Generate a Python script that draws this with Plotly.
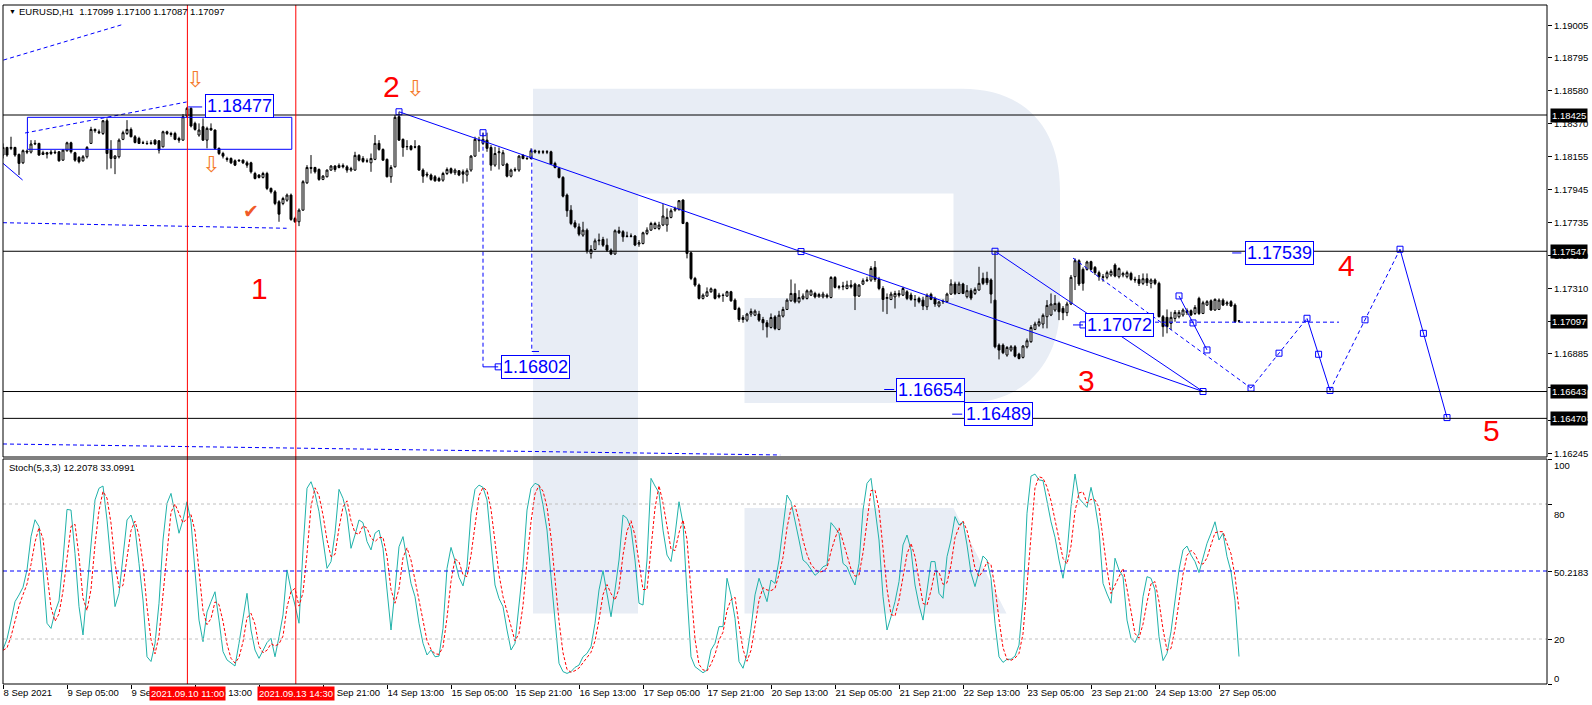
import plotly.graph_objects as go

W, H = 1592, 705


def px(x):
    return x / W


def py(y):
    return 1 - y / H


# ---- EURUSD H1, bar 0 = 8 Sep 13:00 ... bar 309 = 27 Sep 10:00 ----
bars = list(range(310))

opens = [
    1.18167, 1.18216, 1.18210, 1.18216, 1.18171, 1.18117, 1.18193, 1.18186, 1.18238, 1.18242,
    1.18171, 1.18182, 1.18177, 1.18186, 1.18188, 1.18134, 1.18195, 1.18246, 1.18182, 1.18152,
    1.18130, 1.18156, 1.18242, 1.18332, 1.18317, 1.18306, 1.18388, 1.18199, 1.18145, 1.18156,
    1.18268, 1.18306, 1.18332, 1.18285, 1.18274, 1.18246, 1.18242, 1.18246, 1.18263, 1.18259,
    1.18220, 1.18317, 1.18306, 1.18306, 1.18274, 1.18263, 1.18418, 1.18468, 1.18371, 1.18296,
    1.18350, 1.18263, 1.18339, 1.18328, 1.18210, 1.18177, 1.18145, 1.18145, 1.18130, 1.18134,
    1.18134, 1.18117, 1.18117, 1.18048, 1.18038, 1.18023, 1.18048, 1.17952, 1.17930, 1.17866,
    1.17855, 1.17876, 1.17909, 1.17758, 1.17737, 1.17812, 1.17988, 1.18087, 1.18087, 1.18074,
    1.18010, 1.18027, 1.18070, 1.18096, 1.18087, 1.18100, 1.18091, 1.18070, 1.18070, 1.18165,
    1.18145, 1.18130, 1.18117, 1.18139, 1.18242, 1.18203, 1.18139, 1.18027, 1.18091, 1.18414,
    1.18268, 1.18220, 1.18225, 1.18220, 1.18225, 1.18070, 1.18044, 1.18038, 1.18027, 1.18016,
    1.18005, 1.18048, 1.18079, 1.18053, 1.18066, 1.18059, 1.18038, 1.18070, 1.18160, 1.18263,
    1.18242, 1.18263, 1.18216, 1.18102, 1.18182, 1.18102, 1.18109, 1.18031, 1.18074, 1.18070,
    1.18165, 1.18145, 1.18145, 1.18195, 1.18186, 1.18188, 1.18186, 1.18188, 1.18113, 1.18081,
    1.18023, 1.17909, 1.17812, 1.17730, 1.17704, 1.17651, 1.17683, 1.17532, 1.17558, 1.17614,
    1.17623, 1.17586, 1.17554, 1.17529, 1.17679, 1.17673, 1.17645, 1.17643, 1.17645, 1.17593,
    1.17597, 1.17662, 1.17683, 1.17694, 1.17694, 1.17716, 1.17716, 1.17765, 1.17812, 1.17817,
    1.17877, 1.17731, 1.17537, 1.17372, 1.17329, 1.17243, 1.17258, 1.17286, 1.17301, 1.17264,
    1.17264, 1.17258, 1.17286, 1.17232, 1.17178, 1.17107, 1.17103, 1.17142, 1.17135, 1.17142,
    1.17107, 1.17086, 1.17056, 1.17124, 1.17043, 1.17129, 1.17172, 1.17228, 1.17275, 1.17221,
    1.17243, 1.17243, 1.17264, 1.17275, 1.17253, 1.17253, 1.17264, 1.17249, 1.17378, 1.17314,
    1.17318, 1.17307, 1.17329, 1.17335, 1.17258, 1.17335, 1.17357, 1.17361, 1.17443, 1.17365,
    1.17307, 1.17243, 1.17236, 1.17253, 1.17275, 1.17264, 1.17286, 1.17265, 1.17237, 1.17243,
    1.17232, 1.17189, 1.17269, 1.17243, 1.17194, 1.17222, 1.17222, 1.17271, 1.17336, 1.17275,
    1.17336, 1.17254, 1.17293, 1.17275, 1.17297, 1.17372, 1.17372, 1.17362, 1.17232, 1.16942,
    1.16942, 1.16878, 1.16910, 1.16931, 1.16884, 1.16863, 1.16931, 1.16964, 1.17043, 1.17071,
    1.17078, 1.17125, 1.17136, 1.17168, 1.17211, 1.17179, 1.17151, 1.17207, 1.17383, 1.17486,
    1.17430, 1.17430, 1.17480, 1.17443, 1.17409, 1.17383, 1.17379, 1.17394, 1.17458, 1.17383,
    1.17394, 1.17383, 1.17404, 1.17366, 1.17366, 1.17340, 1.17370, 1.17340, 1.17362, 1.17340,
    1.17125, 1.17121, 1.17082, 1.17114, 1.17125, 1.17136, 1.17164, 1.17164, 1.17146, 1.17243,
    1.17146, 1.17200, 1.17228, 1.17168, 1.17172, 1.17232, 1.17207, 1.17222, 1.17200, 1.17099,
]
highs = [
    1.18242, 1.18220, 1.18285, 1.18220, 1.18177, 1.18203, 1.18203, 1.18263, 1.18263, 1.18246,
    1.18195, 1.18188, 1.18199, 1.18199, 1.18193, 1.18203, 1.18253, 1.18253, 1.18188, 1.18160,
    1.18167, 1.18225, 1.18349, 1.18339, 1.18332, 1.18392, 1.18403, 1.18263, 1.18167, 1.18274,
    1.18324, 1.18392, 1.18345, 1.18296, 1.18285, 1.18259, 1.18259, 1.18263, 1.18268, 1.18263,
    1.18324, 1.18324, 1.18317, 1.18317, 1.18285, 1.18431, 1.18477, 1.18474, 1.18382, 1.18371,
    1.18403, 1.18350, 1.18371, 1.18332, 1.18216, 1.18188, 1.18156, 1.18152, 1.18139, 1.18139,
    1.18139, 1.18130, 1.18124, 1.18059, 1.18044, 1.18059, 1.18059, 1.17958, 1.17941, 1.17876,
    1.17898, 1.17919, 1.17919, 1.17769, 1.17823, 1.18005, 1.18102, 1.18167, 1.18091, 1.18081,
    1.18038, 1.18074, 1.18102, 1.18102, 1.18113, 1.18113, 1.18102, 1.18091, 1.18188, 1.18173,
    1.18160, 1.18145, 1.18177, 1.18296, 1.18263, 1.18210, 1.18145, 1.18102, 1.18425, 1.18446,
    1.18274, 1.18263, 1.18231, 1.18263, 1.18231, 1.18081, 1.18059, 1.18048, 1.18038, 1.18027,
    1.18059, 1.18087, 1.18087, 1.18081, 1.18070, 1.18074, 1.18081, 1.18167, 1.18285, 1.18285,
    1.18311, 1.18311, 1.18231, 1.18220, 1.18216, 1.18199, 1.18117, 1.18079, 1.18087, 1.18167,
    1.18173, 1.18156, 1.18210, 1.18203, 1.18199, 1.18199, 1.18199, 1.18195, 1.18124, 1.18091,
    1.18031, 1.17919, 1.17844, 1.17747, 1.17726, 1.17737, 1.17694, 1.17586, 1.17629, 1.17661,
    1.17640, 1.17629, 1.17565, 1.17688, 1.17705, 1.17683, 1.17673, 1.17662, 1.17651, 1.17619,
    1.17673, 1.17701, 1.17737, 1.17737, 1.17737, 1.17851, 1.17823, 1.17823, 1.17834, 1.17877,
    1.17881, 1.17737, 1.17544, 1.17382, 1.17339, 1.17275, 1.17314, 1.17314, 1.17307, 1.17279,
    1.17275, 1.17292, 1.17292, 1.17243, 1.17189, 1.17135, 1.17150, 1.17178, 1.17172, 1.17163,
    1.17124, 1.17103, 1.17146, 1.17135, 1.17163, 1.17189, 1.17243, 1.17365, 1.17339, 1.17296,
    1.17275, 1.17301, 1.17301, 1.17286, 1.17279, 1.17286, 1.17275, 1.17387, 1.17387, 1.17329,
    1.17350, 1.17357, 1.17361, 1.17344, 1.17335, 1.17372, 1.17382, 1.17451, 1.17484, 1.17382,
    1.17322, 1.17275, 1.17286, 1.17292, 1.17296, 1.17318, 1.17296, 1.17280, 1.17265, 1.17254,
    1.17254, 1.17275, 1.17280, 1.17254, 1.17228, 1.17237, 1.17280, 1.17366, 1.17351, 1.17351,
    1.17344, 1.17329, 1.17308, 1.17314, 1.17447, 1.17409, 1.17415, 1.17372, 1.17547, 1.16953,
    1.16953, 1.16936, 1.16942, 1.16942, 1.16893, 1.16942, 1.16985, 1.17071, 1.17093, 1.17114,
    1.17146, 1.17232, 1.17275, 1.17265, 1.17222, 1.17194, 1.17222, 1.17394, 1.17501, 1.17495,
    1.17443, 1.17486, 1.17486, 1.17452, 1.17422, 1.17400, 1.17422, 1.17430, 1.17469, 1.17443,
    1.17415, 1.17422, 1.17415, 1.17383, 1.17394, 1.17404, 1.17404, 1.17372, 1.17372, 1.17351,
    1.17136, 1.17172, 1.17157, 1.17168, 1.17168, 1.17179, 1.17179, 1.17172, 1.17200, 1.17254,
    1.17228, 1.17232, 1.17237, 1.17243, 1.17243, 1.17243, 1.17228, 1.17232, 1.17211, 1.17100,
]
lows = [
    1.18145, 1.18156, 1.18199, 1.18156, 1.18038, 1.18109, 1.18173, 1.18177, 1.18231, 1.18162,
    1.18167, 1.18145, 1.18167, 1.18173, 1.18124, 1.18130, 1.18188, 1.18177, 1.18124, 1.18113,
    1.18124, 1.18145, 1.18238, 1.18311, 1.18302, 1.18296, 1.18074, 1.18081, 1.18044, 1.18145,
    1.18263, 1.18296, 1.18281, 1.18242, 1.18238, 1.18238, 1.18236, 1.18233, 1.18231, 1.18177,
    1.18216, 1.18296, 1.18285, 1.18263, 1.18246, 1.18259, 1.18410, 1.18345, 1.18324, 1.18285,
    1.18259, 1.18210, 1.18324, 1.18203, 1.18167, 1.18145, 1.18124, 1.18109, 1.18096, 1.18124,
    1.18109, 1.18085, 1.18048, 1.18010, 1.18016, 1.18016, 1.17941, 1.17919, 1.17844, 1.17737,
    1.17844, 1.17866, 1.17743, 1.17730, 1.17709, 1.17808, 1.17980, 1.18048, 1.18048, 1.18001,
    1.18005, 1.18023, 1.18066, 1.18059, 1.18081, 1.18081, 1.18053, 1.18059, 1.18066, 1.18126,
    1.18117, 1.18117, 1.18059, 1.18134, 1.18195, 1.18130, 1.18023, 1.17988, 1.18087, 1.18259,
    1.18156, 1.18199, 1.18195, 1.18210, 1.18066, 1.17988, 1.18023, 1.18001, 1.17995, 1.17995,
    1.17995, 1.18038, 1.18044, 1.18038, 1.18031, 1.17984, 1.17995, 1.18059, 1.18156, 1.18188,
    1.18231, 1.18188, 1.18066, 1.18091, 1.18074, 1.18096, 1.18023, 1.18023, 1.18059, 1.18059,
    1.18139, 1.18139, 1.18139, 1.18177, 1.18173, 1.18173, 1.18173, 1.18102, 1.18081, 1.18016,
    1.17894, 1.17769, 1.17715, 1.17694, 1.17644, 1.17640, 1.17532, 1.17500, 1.17554, 1.17586,
    1.17575, 1.17543, 1.17522, 1.17524, 1.17658, 1.17608, 1.17636, 1.17636, 1.17580, 1.17576,
    1.17591, 1.17651, 1.17679, 1.17688, 1.17683, 1.17709, 1.17673, 1.17759, 1.17802, 1.17808,
    1.17722, 1.17501, 1.17361, 1.17318, 1.17236, 1.17236, 1.17253, 1.17279, 1.17236, 1.17243,
    1.17221, 1.17253, 1.17221, 1.17168, 1.17092, 1.17086, 1.17092, 1.17125, 1.17129, 1.17092,
    1.17038, 1.16991, 1.17049, 1.17038, 1.17038, 1.17120, 1.17168, 1.17221, 1.17211, 1.17211,
    1.17232, 1.17236, 1.17258, 1.17243, 1.17249, 1.17243, 1.17243, 1.17243, 1.17307, 1.17301,
    1.17296, 1.17301, 1.17307, 1.17168, 1.17253, 1.17329, 1.17350, 1.17350, 1.17350, 1.17296,
    1.17157, 1.17142, 1.17232, 1.17178, 1.17249, 1.17258, 1.17232, 1.17228, 1.17189, 1.17211,
    1.17168, 1.17168, 1.17232, 1.17189, 1.17185, 1.17207, 1.17215, 1.17265, 1.17265, 1.17271,
    1.17271, 1.17243, 1.17232, 1.17265, 1.17293, 1.17329, 1.17329, 1.17211, 1.16921, 1.16850,
    1.16884, 1.16867, 1.16899, 1.16863, 1.16850, 1.16856, 1.16921, 1.16957, 1.17039, 1.17060,
    1.17050, 1.17050, 1.17129, 1.17157, 1.17103, 1.17103, 1.17129, 1.17200, 1.17297, 1.17323,
    1.17293, 1.17422, 1.17422, 1.17394, 1.17357, 1.17351, 1.17366, 1.17383, 1.17379, 1.17372,
    1.17379, 1.17372, 1.17357, 1.17344, 1.17323, 1.17329, 1.17323, 1.17308, 1.17329, 1.17121,
    1.16996, 1.17018, 1.17039, 1.17093, 1.17114, 1.17125, 1.17136, 1.17129, 1.17136, 1.17136,
    1.17142, 1.17194, 1.17164, 1.17164, 1.17168, 1.17194, 1.17194, 1.17189, 1.17086, 1.17087,
]
closes = [
    1.18216, 1.18167, 1.18216, 1.18167, 1.18113, 1.18195, 1.18186, 1.18238, 1.18242, 1.18167,
    1.18182, 1.18173, 1.18186, 1.18182, 1.18130, 1.18199, 1.18246, 1.18188, 1.18134, 1.18124,
    1.18156, 1.18216, 1.18332, 1.18324, 1.18311, 1.18388, 1.18177, 1.18145, 1.18160, 1.18263,
    1.18311, 1.18332, 1.18285, 1.18248, 1.18242, 1.18244, 1.18240, 1.18242, 1.18238, 1.18199,
    1.18317, 1.18306, 1.18300, 1.18268, 1.18263, 1.18414, 1.18468, 1.18354, 1.18332, 1.18328,
    1.18263, 1.18339, 1.18328, 1.18210, 1.18177, 1.18160, 1.18139, 1.18117, 1.18102, 1.18130,
    1.18117, 1.18102, 1.18059, 1.18016, 1.18023, 1.18048, 1.17952, 1.17930, 1.17855, 1.17786,
    1.17887, 1.17909, 1.17752, 1.17737, 1.17812, 1.17995, 1.18087, 1.18081, 1.18059, 1.18010,
    1.18031, 1.18070, 1.18096, 1.18074, 1.18100, 1.18091, 1.18070, 1.18079, 1.18165, 1.18134,
    1.18126, 1.18128, 1.18145, 1.18242, 1.18203, 1.18134, 1.18027, 1.18087, 1.18410, 1.18263,
    1.18216, 1.18222, 1.18203, 1.18218, 1.18070, 1.18031, 1.18038, 1.18010, 1.18001, 1.18001,
    1.18048, 1.18074, 1.18053, 1.18070, 1.18038, 1.18044, 1.18066, 1.18160, 1.18268, 1.18260,
    1.18268, 1.18210, 1.18102, 1.18177, 1.18188, 1.18182, 1.18031, 1.18070, 1.18070, 1.18160,
    1.18145, 1.18143, 1.18195, 1.18186, 1.18188, 1.18186, 1.18188, 1.18109, 1.18087, 1.18023,
    1.17902, 1.17808, 1.17726, 1.17704, 1.17657, 1.17683, 1.17550, 1.17558, 1.17614, 1.17618,
    1.17586, 1.17554, 1.17529, 1.17679, 1.17666, 1.17640, 1.17643, 1.17645, 1.17587, 1.17602,
    1.17666, 1.17683, 1.17726, 1.17726, 1.17716, 1.17774, 1.17765, 1.17808, 1.17821, 1.17873,
    1.17726, 1.17533, 1.17372, 1.17329, 1.17243, 1.17264, 1.17286, 1.17305, 1.17243, 1.17253,
    1.17262, 1.17286, 1.17228, 1.17172, 1.17107, 1.17120, 1.17142, 1.17159, 1.17161, 1.17103,
    1.17086, 1.17060, 1.17120, 1.17049, 1.17135, 1.17172, 1.17232, 1.17275, 1.17221, 1.17249,
    1.17258, 1.17292, 1.17292, 1.17253, 1.17268, 1.17271, 1.17253, 1.17378, 1.17314, 1.17318,
    1.17322, 1.17329, 1.17318, 1.17258, 1.17329, 1.17357, 1.17361, 1.17436, 1.17365, 1.17307,
    1.17236, 1.17249, 1.17271, 1.17275, 1.17264, 1.17307, 1.17243, 1.17237, 1.17235, 1.17222,
    1.17194, 1.17263, 1.17237, 1.17207, 1.17220, 1.17224, 1.17271, 1.17336, 1.17275, 1.17336,
    1.17275, 1.17293, 1.17245, 1.17301, 1.17340, 1.17340, 1.17344, 1.17271, 1.16931, 1.16910,
    1.16893, 1.16927, 1.16931, 1.16871, 1.16856, 1.16936, 1.16970, 1.17056, 1.17078, 1.17093,
    1.17134, 1.17198, 1.17207, 1.17211, 1.17157, 1.17151, 1.17207, 1.17379, 1.17486, 1.17336,
    1.17340, 1.17478, 1.17430, 1.17409, 1.17383, 1.17379, 1.17409, 1.17417, 1.17387, 1.17435,
    1.17404, 1.17409, 1.17366, 1.17362, 1.17340, 1.17370, 1.17344, 1.17362, 1.17340, 1.17125,
    1.17061, 1.17061, 1.17121, 1.17153, 1.17153, 1.17168, 1.17151, 1.17136, 1.17185, 1.17146,
    1.17215, 1.17222, 1.17168, 1.17237, 1.17232, 1.17200, 1.17215, 1.17194, 1.17093, 1.17097,
]

# Stochastic(5,3,3): %K main line and %D signal line
stoch_main = [
    15.4, 20, 28, 36.6, 39.6, 43, 50.7, 65.5, 73, 70,
    50.7, 27, 24.7, 32, 37, 55, 77.6, 77.3, 58, 34.4,
    21.8, 41.8, 62.5, 81.8, 87, 88, 72.9, 53.6, 34.4, 40.3,
    56.6, 72.9, 75.1, 69.2, 53.6, 37.3, 12.1, 10, 18, 35.9,
    64, 80.3, 84.7, 75, 67, 72.9, 81, 72, 50.7, 28.4,
    18.8, 32, 36.6, 41, 28.4, 14.4, 10.7, 9.2, 8, 18.1,
    29.9, 40.3, 24, 15.1, 11.4, 15.1, 18.4, 20.3, 12.1, 21,
    30.7, 50.7, 41.8, 35.1, 27, 59.6, 87, 89.9, 84.7, 76.6,
    64, 51.4, 54.4, 67, 86.5, 82.5, 75.1, 60.3, 66.2, 72.9,
    71.7, 63.3, 59.6, 67, 68.4, 60.3, 41.8, 24, 41.8, 61,
    65.5, 55.1, 44.7, 38.8, 27, 18.1, 12.9, 15.1, 12.1, 12.4,
    24.7, 51.4, 60.7, 54.8, 47.4, 43.6, 52.1, 75.9, 86.5, 88.4,
    87.4, 81.8, 64, 44, 38, 34.4, 24, 15.1, 18.1, 34.4,
    52.1, 77.3, 87, 89.2, 88.4, 79.6, 68.4, 47.7, 27, 9.2,
    5.5, 4.7, 5.5, 7.4, 8.4, 12.1, 13.6, 16.6, 27, 41.8,
    50.4, 40.3, 29.9, 41.8, 55.1, 75.1, 73.6, 69.2, 55.1, 35.9,
    35.1, 55.1, 91.4, 88, 85, 68.4, 57.3, 54.4, 66.2, 81,
    71.4, 40.3, 12.1, 7.7, 6.2, 5, 6.2, 15.1, 18.1, 25.5,
    25.5, 47, 39.6, 29.2, 10, 7, 13.3, 24.7, 39.6, 47,
    41.8, 36.6, 46.2, 44.7, 55.1, 69.2, 84, 81, 72.9, 64,
    55.1, 53.6, 51, 48.3, 49.8, 52.1, 52.9, 71.7, 69.5, 67,
    53.6, 52.1, 47.7, 44, 53.6, 77.3, 89.2, 91.4, 78, 64,
    38.8, 24, 29.9, 36.6, 45.5, 61.8, 66.2, 59.6, 44, 35.1,
    28.4, 41.8, 54.4, 54.4, 40.3, 38.1, 56.6, 64, 74.4, 70.7,
    72.1, 61.8, 49.2, 43.3, 50.7, 56.9, 55.1, 47, 27, 12.1,
    9.6, 11, 11, 12.4, 17.3, 37.3, 75.9, 92.4, 93.3, 90.7,
    90.4, 81.8, 72.1, 65.2, 55.1, 47, 58, 78.8, 93.3, 82.5,
    80.3, 78.5, 87.4, 79.6, 68.4, 44.7, 40, 35.9, 55.9, 50.7,
    47.7, 28.4, 20.3, 18.4, 22.5, 38.8, 47.7, 47, 41.8, 21,
    10.4, 13.6, 23.3, 35.9, 50.7, 59.6, 61.3, 57.3, 54.4, 49.5,
    55.9, 62.5, 67, 72.1, 64, 67, 56.6, 50, 37, 12.2078,
]
stoch_signal = [
    15, 16, 21.1, 28.2, 34.7, 39.7, 44.4, 53.1, 63.1, 69.5,
    64.6, 49.2, 34.1, 27.9, 31.2, 41.3, 56.5, 70, 71, 56.6,
    38.1, 32.7, 42, 62, 77.1, 85.6, 82.6, 71.5, 53.6, 42.8,
    43.8, 56.6, 68.2, 72.4, 66, 53.4, 34.3, 19.8, 13.4, 21.3,
    39.3, 60.1, 76.3, 80, 75.6, 71.6, 73.6, 75.3, 67.9, 50.4,
    32.6, 26.4, 29.1, 36.5, 35.3, 27.9, 17.8, 11.4, 9.3, 11.8,
    18.7, 29.4, 31.4, 26.5, 16.8, 13.9, 15, 17.9, 16.9, 17.8,
    21.3, 34.1, 41.1, 42.5, 34.6, 40.6, 57.9, 78.8, 87.2, 83.7,
    75.1, 64, 56.6, 57.6, 69.3, 78.7, 81.4, 72.6, 67.2, 66.5,
    70.3, 69.3, 64.9, 63.3, 65, 65.2, 56.8, 42, 35.9, 42.3,
    56.1, 60.5, 55.1, 46.2, 36.8, 28, 19.3, 15.4, 13.4, 13.2,
    16.4, 29.5, 45.6, 55.6, 54.3, 48.6, 47.7, 57.2, 71.5, 83.6,
    87.4, 85.9, 77.7, 63.3, 48.7, 38.8, 32.1, 24.5, 19.1, 22.5,
    34.9, 54.6, 72.1, 84.5, 88.2, 85.7, 78.8, 65.2, 47.7, 28,
    13.9, 6.5, 5.2, 5.9, 7.1, 9.3, 11.4, 14.1, 19.1, 28.5,
    39.7, 44.2, 40.2, 37.3, 42.3, 57.3, 67.9, 72.6, 66, 53.4,
    42, 42, 60.5, 78.2, 88.1, 80.5, 70.2, 60, 59.3, 67.2,
    72.9, 64.2, 41.3, 20, 8.7, 6.3, 5.8, 8.8, 13.1, 19.6,
    23, 32.7, 37.4, 38.6, 26.3, 15.4, 10.1, 15, 25.9, 37.1,
    42.8, 41.8, 41.5, 42.5, 48.7, 56.3, 69.4, 78.1, 79.3, 72.6,
    64, 57.6, 53.2, 51, 49.7, 50.1, 51.6, 58.9, 64.7, 69.4,
    63.4, 57.6, 51.1, 47.9, 48.4, 58.3, 73.4, 86, 86.2, 77.8,
    60.3, 42.3, 30.9, 30.2, 37.3, 48, 57.8, 62.5, 56.6, 46.2,
    35.8, 35.1, 41.5, 50.2, 49.7, 44.3, 45, 52.9, 65, 69.7,
    72.4, 68.2, 61, 51.4, 47.7, 50.3, 54.2, 53, 43, 28.7,
    16.2, 10.9, 10.5, 11.5, 13.6, 22.3, 43.5, 68.5, 87.2, 92.1,
    91.5, 87.6, 81.4, 73, 64.1, 55.8, 53.4, 61.3, 76.7, 84.9,
    85.4, 80.4, 82.1, 81.8, 78.5, 64.2, 51, 40.2, 43.9, 47.5,
    51.4, 42.3, 32.1, 22.4, 20.4, 26.6, 36.3, 44.5, 45.5, 36.6,
    24.4, 15, 15.8, 24.3, 36.6, 48.7, 57.2, 59.4, 57.7, 53.7,
    53.3, 56, 61.8, 67.2, 67.7, 67.7, 62.5, 57.9, 47.9, 33.0991,
]

date_ticks = list(range(0, 305, 16))
date_labels = [
    "8 Sep 2021", "9 Sep 05:00", "9 Sep 21:00", "10 Sep 13:00", "13 Sep 05:00",
    "13 Sep 21:00", "14 Sep 13:00", "15 Sep 05:00", "15 Sep 21:00", "16 Sep 13:00",
    "17 Sep 05:00", "17 Sep 21:00", "20 Sep 13:00", "21 Sep 05:00", "21 Sep 21:00",
    "22 Sep 13:00", "23 Sep 05:00", "23 Sep 21:00", "24 Sep 13:00", "27 Sep 05:00",
]
price_ticks = [1.19005, 1.18795, 1.18580, 1.18370, 1.18155, 1.17945, 1.17735,
               1.17520, 1.17310, 1.16885, 1.16670, 1.16455, 1.16245]
levels = [1.18425, 1.17547, 1.16643, 1.16470]
last_price = 1.17097
stoch_levels = [20, 80]
stoch_hline = 50.2183

# vertical time markers (bar position)
marker_times = [(46.1, "2021.09.10 11:00"), (73.2, "2021.09.13 14:30")]

# analyst drawings as (bar, price)
solid_lines = [
    ([-0.1, 4.9], [1.18116, 1.18006]),
    ([46.3, 49.8], [1.18477, 1.18477]),
    ([120, 123.8], [1.16802, 1.16802]),
    ([132.2, 134.0], [1.16901, 1.16901]),
    ([220.3, 222.8], [1.16656, 1.16656]),
    ([237.3, 239.8], [1.16497, 1.16497]),
    ([267.5, 270.0], [1.17072, 1.17072]),
    ([307.3, 309.6], [1.17536, 1.17536]),
    ([99, 300], [1.18446, 1.16643]),
    ([248, 300], [1.17547, 1.16643]),
    ([294, 301], [1.17259, 1.16911]),
    ([326, 331.75], [1.17115, 1.16650]),
    ([349.25, 361], [1.17560, 1.16475]),
]
dashed_lines = [
    ([0.1, 30.25], [1.18779, 1.19011]),
    ([5.5, 45.9], [1.18309, 1.18509]),
    ([0, 70.9], [1.17731, 1.17695]),
    ([0, 194.3], [1.16305, 1.16234]),
    ([120, 120], [1.18311, 1.16802]),
    ([132.2, 132.2], [1.18208, 1.16901]),
    ([267.5, 312], [1.17503, 1.16665]),
    ([312, 326], [1.16665, 1.17115]),
    ([331.75, 349.25], [1.16650, 1.17560]),
    ([288, 334], [1.17090, 1.17090]),
]
handle_x = [99, 199.5, 248, 300, 294, 297.5, 301, 312, 319, 326, 328.9,
            331.75, 340.5, 349.25, 355.1, 361, 120, 123.8, 270]
handle_y = [1.18446, 1.17545, 1.17547, 1.16643, 1.17259, 1.17085, 1.16911,
            1.16665, 1.16890, 1.17115, 1.16883, 1.16650, 1.17105, 1.17560,
            1.17018, 1.16475, 1.18311, 1.16802, 1.17072]
price_boxes = [(59, 1.18483, "1.18477"), (133, 1.16804, "1.16802"),
               (231.9, 1.16656, "1.16654"), (248.9, 1.16497, "1.16489"),
               (279, 1.17072, "1.17072"), (319, 1.17536, "1.17539")]
wave_labels = [(64, 1.17304, "1"), (97, 1.18612, "2"), (270.75, 1.16711, "3"),
               (335.75, 1.17452, "4"), (372, 1.16395, "5")]
arrows = [(48, 1.18651), (52, 1.18109), (103, 1.18593)]
tick_mark = (62, 1.17806)
box_x = [6.1, 72.2]
box_y = [1.18204, 1.18410]

BLUE = "#0000ff"
FONT = "Liberation Sans"

fig = go.Figure()

fig.add_trace(go.Candlestick(
    x=bars, open=opens, high=highs, low=lows, close=closes,
    increasing=dict(line=dict(color="black", width=1), fillcolor="white"),
    decreasing=dict(line=dict(color="black", width=1), fillcolor="black"),
    whiskerwidth=0, showlegend=False, hoverinfo="skip",
))

for xs, ys in solid_lines:
    fig.add_trace(go.Scatter(x=xs, y=ys, mode="lines", line=dict(color=BLUE, width=1),
                             showlegend=False, hoverinfo="skip"))
for xs, ys in dashed_lines:
    fig.add_trace(go.Scatter(x=xs, y=ys, mode="lines",
                             line=dict(color=BLUE, width=1, dash="4px,3px"),
                             showlegend=False, hoverinfo="skip"))
fig.add_trace(go.Scatter(x=handle_x, y=handle_y, mode="markers",
                         marker=dict(symbol="square-open", size=6, color=BLUE, line=dict(width=1)),
                         showlegend=False, hoverinfo="skip"))

fig.add_trace(go.Scatter(x=bars, y=stoch_main, mode="lines", yaxis="y2",
                         line=dict(color="#20b2aa", width=1),
                         showlegend=False, hoverinfo="skip"))
fig.add_trace(go.Scatter(x=bars, y=stoch_signal, mode="lines", yaxis="y2",
                         line=dict(color="#ff0000", width=1, dash="3px,2px"),
                         showlegend=False, hoverinfo="skip"))

shapes = []
# watermark logo
wm = "#e8edf5"


def path(points):
    return "M " + " L ".join(f"{px(x):.5f},{py(y):.5f}" for x, y in points) + " Z"


def bowl():
    p = [(638, 88.8), (962, 88.8)]
    s = "M " + " L ".join(f"{px(x):.5f},{py(y):.5f}" for x, y in p)
    s += " C {:.5f},{:.5f} {:.5f},{:.5f} {:.5f},{:.5f}".format(
        px(1025), py(88.8), px(1060), py(128), px(1060), py(190))
    s += " L {:.5f},{:.5f}".format(px(1060), py(305))
    s += " C {:.5f},{:.5f} {:.5f},{:.5f} {:.5f},{:.5f}".format(
        px(1060), py(365), px(1022), py(403), px(965), py(403))
    rest = [(744.5, 403), (744.5, 298), (953.5, 298), (953.5, 193.6), (638, 193.6)]
    s += " L " + " L ".join(f"{px(x):.5f},{py(y):.5f}" for x, y in rest) + " Z"
    return s


shapes.append(dict(type="rect", xref="paper", yref="paper", x0=px(533), x1=px(638),
                   y0=py(613.5), y1=py(88.8), fillcolor=wm, line=dict(width=0), layer="below"))
shapes.append(dict(type="path", xref="paper", yref="paper", path=bowl(),
                   fillcolor=wm, line=dict(width=0), layer="below"))
shapes.append(dict(type="path", xref="paper", yref="paper",
                   path=path([(744.5, 508), (953.5, 508), (1006.5, 613.5), (744.5, 613.5)]),
                   fillcolor=wm, line=dict(width=0), layer="below"))

# horizontal price levels
for lv in levels:
    shapes.append(dict(type="line", xref="paper", yref="y", x0=px(3), x1=px(1547),
                       y0=lv, y1=lv, line=dict(color="black", width=1)))
# stochastic levels
for lv in stoch_levels:
    shapes.append(dict(type="line", xref="paper", yref="y2", x0=px(3), x1=px(1547),
                       y0=lv, y1=lv, line=dict(color="#c0c0c0", width=1, dash="3px,3px")))
shapes.append(dict(type="line", xref="paper", yref="y2", x0=px(3), x1=px(1547),
                   y0=stoch_hline, y1=stoch_hline, line=dict(color=BLUE, width=1, dash="4px,3px")))
# blue rectangle
shapes.append(dict(type="rect", xref="x", yref="y", x0=box_x[0], x1=box_x[1],
                   y0=box_y[0], y1=box_y[1], line=dict(color=BLUE, width=1)))
# red vertical lines
for xb, _ in marker_times:
    shapes.append(dict(type="line", xref="x", yref="paper", x0=xb, x1=xb,
                       y0=py(684), y1=py(5), line=dict(color="#ff0000", width=1)))
# pane frames
shapes.append(dict(type="rect", xref="paper", yref="paper", x0=px(3), x1=px(1547),
                   y0=py(457), y1=py(5), line=dict(color="black", width=1)))
shapes.append(dict(type="rect", xref="paper", yref="paper", x0=px(3), x1=px(1547),
                   y0=py(684), y1=py(459), line=dict(color="black", width=1)))

ann = []
ann.append(dict(xref="paper", yref="paper", x=px(7), y=py(11), text="▼", showarrow=False,
                xanchor="left", yanchor="middle", font=dict(size=7, color="black")))
ann.append(dict(xref="paper", yref="paper", x=px(17), y=py(11),
                text="EURUSD,H1  1.17099 1.17100 1.17087 1.17097", showarrow=False,
                xanchor="left", yanchor="middle", font=dict(size=9.5, color="black")))
ann.append(dict(xref="paper", yref="paper", x=px(7), y=py(468),
                text="Stoch(5,3,3) 12.2078 33.0991", showarrow=False,
                xanchor="left", yanchor="middle", font=dict(size=9.5, color="black")))

for xb, yp, txt in price_boxes:
    ann.append(dict(xref="x", yref="y", x=xb, y=yp, text=txt, showarrow=False,
                    font=dict(size=18, color=BLUE), bgcolor="white",
                    bordercolor=BLUE, borderwidth=1, borderpad=1))
for xb, yp, txt in wave_labels:
    ann.append(dict(xref="x", yref="y", x=xb, y=yp, text=txt, showarrow=False,
                    font=dict(size=30, color="#ff0000")))
for xb, yp in arrows:
    ann.append(dict(xref="x", yref="y", x=xb, y=yp, text="⇩", showarrow=False,
                    font=dict(size=22, color="#f47a2a", family="DejaVu Sans")))
ann.append(dict(xref="x", yref="y", x=tick_mark[0], y=tick_mark[1], text="✔", showarrow=False,
                font=dict(size=19, color="#f05a28", family="DejaVu Sans")))

# right price scale labels (plain first, highlighted ones on top)
for v in price_ticks:
    ann.append(dict(xref="paper", yref="y", x=px(1552), y=v, text=f"{v:.5f}",
                    showarrow=False, xanchor="left", yanchor="middle",
                    font=dict(size=9.5, color="black")))
for lv in levels + [last_price]:
    ann.append(dict(xref="paper", yref="y", x=px(1550), y=lv, text=f"{lv:.5f}",
                    showarrow=False, xanchor="left", yanchor="middle",
                    font=dict(size=9.5, color="white"), bgcolor="black", borderpad=1))

for val, yy in [("100", 466), ("80", 514), ("50.2183", 572), ("20", 639), ("0", 678)]:
    ann.append(dict(xref="paper", yref="paper", x=px(1552), y=py(yy), text=val,
                    showarrow=False, xanchor="left", yanchor="middle",
                    font=dict(size=9.5, color="black")))

for xb, txt in marker_times:
    ann.append(dict(xref="x", yref="paper", x=xb, y=py(693), text=txt, showarrow=False,
                    xanchor="center", yanchor="middle", font=dict(size=9.5, color="white"),
                    bgcolor="#ff0000", borderpad=1))

fig.update_layout(
    width=W,
    margin=dict(l=0, r=0, t=0, b=0),
    paper_bgcolor="white", plot_bgcolor="rgba(0,0,0,0)",
    font=dict(family=FONT, size=10, color="black"),
    hovermode=False, showlegend=False,
    shapes=shapes, annotations=ann,
    xaxis=dict(domain=[px(3), px(1547)], range=[0, 386], anchor="y2",
               showgrid=False, zeroline=False, showline=False,
               rangeslider=dict(visible=False),
               tickmode="array", tickvals=date_ticks, ticktext=date_labels,
               ticks="outside", ticklen=4, tickcolor="black", tickangle=0,
               ticklabelposition="outside right", tickfont=dict(size=9.5)),
    yaxis=dict(domain=[py(457), py(5)], range=[1.16221, 1.19134], side="right",
               anchor="x", showgrid=False, zeroline=False, showline=False,
               tickmode="array", tickvals=price_ticks + [1.17095], showticklabels=False,
               ticks="outside", ticklen=4, tickcolor="black"),
    yaxis2=dict(domain=[py(684), py(459)], range=[0, 100], side="right",
                anchor="x", showgrid=False, zeroline=False, showline=False,
                tickmode="array", tickvals=[0, 20, stoch_hline, 80, 100],
                ticks="outside", ticklen=4, tickcolor="black", showticklabels=False),
)

# height left to the page div so it can sit flush at the window's top-left corner
fig.write_html("out.html", config={"displayModeBar": False},
               default_height="705px;position:absolute;left:0;top:0")
